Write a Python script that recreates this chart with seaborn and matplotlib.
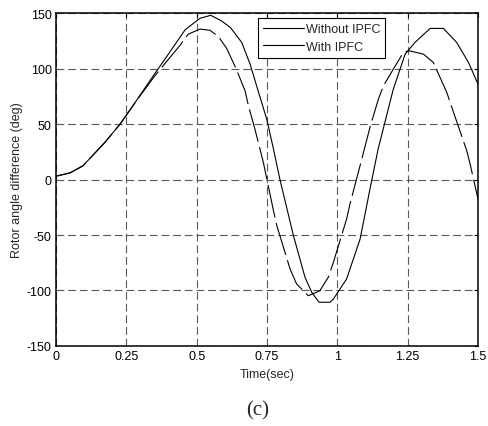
import numpy as np
import pandas as pd
import matplotlib
matplotlib.use("Agg")
import matplotlib.pyplot as plt
import seaborn as sns
from matplotlib.lines import Line2D

# Without IPFC (solid)
t_without = [0.0, 0.05, 0.096, 0.174, 0.228, 0.288, 0.35, 0.405, 0.459, 0.512,
             0.55, 0.588, 0.62, 0.66, 0.69, 0.713, 0.749, 0.773, 0.796, 0.844,
             0.885, 0.909, 0.935, 0.974, 0.986, 1.033, 1.081, 1.116, 1.145, 1.199,
             1.241, 1.276, 1.33, 1.377, 1.424, 1.466, 1.5]
v_without = [3, 6, 12.4, 33.5, 50, 72, 95, 115, 135, 145.3,
             148, 143, 137, 123.6, 104, 84.5, 54.5, 27.5, 0, -50.6,
             -88, -101.6, -110.6, -110.6, -107.7, -89.6, -53.6, -8.6, 27.5, 81.5,
             113, 123.6, 136.2, 136.2, 123.6, 105.6, 86]

# With IPFC (dashed)
t_with = [0.0, 0.05, 0.096, 0.174, 0.228, 0.299, 0.35, 0.405, 0.441, 0.47,
          0.512, 0.547, 0.577, 0.607, 0.64, 0.672, 0.684, 0.707, 0.737, 0.773,
          0.785, 0.832, 0.855, 0.897, 0.938, 0.968, 0.986, 1.033, 1.045, 1.087,
          1.116, 1.146, 1.164, 1.199, 1.235, 1.256, 1.306, 1.341, 1.389, 1.407,
          1.46, 1.472, 1.5]
v_with = [3, 6, 12.4, 33.5, 50, 75.5, 93, 110, 121, 131,
          135.6, 134.5, 129, 118, 100, 80, 66.5, 45.5, 15.5, -28,
          -41.6, -80.6, -94, -104.7, -100.2, -88, -74.6, -35.6, -22, 18.5,
          47, 72.5, 84.5, 99.5, 114.6, 116, 113, 105.6, 78.6, 65,
          26, 14, -17.6]

series_names = ["Without IPFC", "With IPFC"]
x_ticks = [0, 0.25, 0.5, 0.75, 1, 1.25, 1.5]
x_ticklabels = ["0", "0.25", "0.5", "0.75", "1", "1.25", "1.5"]
y_ticks = [-150, -100, -50, 0, 50, 100, 150]

df = pd.concat([
    pd.DataFrame({"t": t_without, "v": v_without, "case": series_names[0]}),
    pd.DataFrame({"t": t_with, "v": v_with, "case": series_names[1]}),
])

sns.set_theme(style="white")
plt.rcParams['font.family'] = ['Liberation Sans', 'DejaVu Sans']
plt.rcParams['axes.unicode_minus'] = False

fig = plt.figure(figsize=(4.89, 4.27), dpi=100)
ax = fig.add_axes([0.1145, 0.1874, 0.863, 0.7796])

sns.lineplot(data=df, x="t", y="v", hue="case", style="case",
             palette={series_names[0]: "black", series_names[1]: "black"},
             dashes={series_names[0]: "", series_names[1]: (30, 5)},
             linewidth=0.8, ax=ax, legend=False, sort=False, estimator=None)

ax.set_xlim(0, 1.5)
ax.set_ylim(-150, 150)
ax.set_xticks(x_ticks)
ax.set_xticklabels(x_ticklabels)
ax.set_yticks(y_ticks)
ax.tick_params(direction="in", length=3, width=0.8, labelsize=9, pad=3,
               top=True, right=True, colors="black")
ax.grid(True, linestyle=(0, (7, 3.5)), color="0.35", linewidth=0.8)
for s in ax.spines.values():
    s.set_color("black")
    s.set_linewidth(1.1)

ax.set_xlabel("Time(sec)", fontsize=9)
ax.set_ylabel("Rotor angle difference (deg)", fontsize=9)
ax.xaxis.set_label_coords(0.5, -0.066)
ax.yaxis.set_label_coords(-0.078, 0.5)

handles = [Line2D([], [], color="black", linewidth=0.8) for _ in series_names]
leg = ax.legend(handles, series_names, loc="upper left",
                bbox_to_anchor=(0.479, 0.985), borderaxespad=0,
                fontsize=9, handlelength=3.3, fancybox=False, framealpha=1,
                borderpad=0.4, labelspacing=0.45, handletextpad=0.1)
leg.get_frame().set_edgecolor("black")
leg.get_frame().set_linewidth(0.8)

fig.text(0.526, 0.0375, "(c)", fontsize=15, family="Liberation Serif",
         ha="center", va="center")

fig.savefig("out.png", dpi=100)
